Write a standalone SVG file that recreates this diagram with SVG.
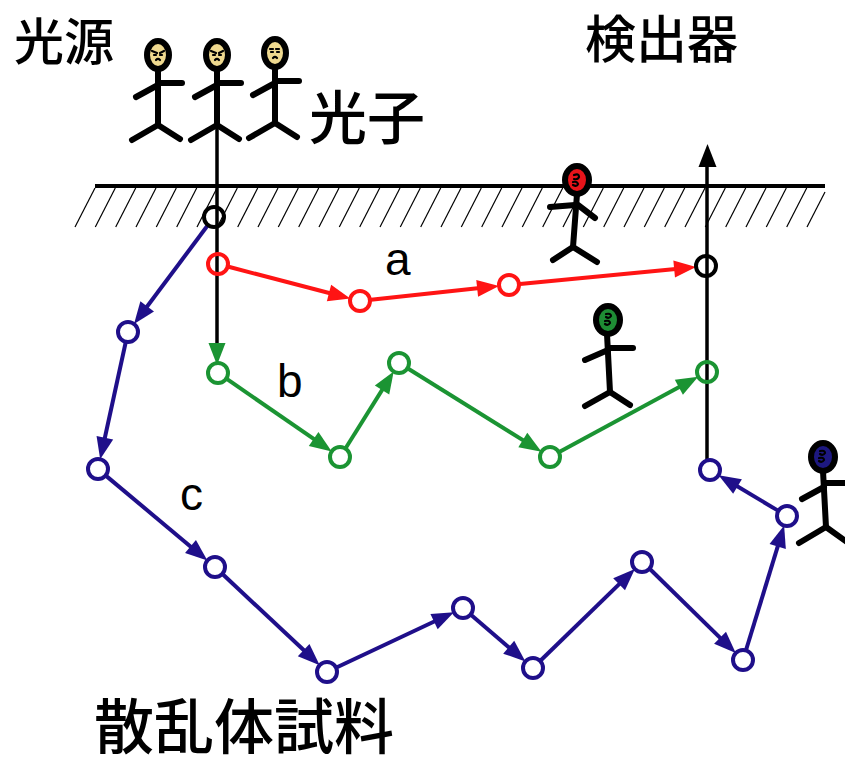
<svg xmlns="http://www.w3.org/2000/svg" width="845" height="767" viewBox="0 0 845 767">
  <style>
    .jp { font-family: "Noto Sans CJK JP", "Noto Sans CJK SC", sans-serif; font-weight: 500; fill: #000; }
    .lbl { font-family: "Liberation Sans", Arial, sans-serif; font-size: 46px; fill: #000; }
    .node { fill: none; stroke-width: 4; }
    .limb { stroke: #000; stroke-width: 6; stroke-linecap: round; fill: none; }
    .head { stroke: #000; stroke-width: 6; }
    .face { stroke: #000; stroke-width: 2.2; fill: none; stroke-linecap: round; }
    .hatch line { stroke: #000; stroke-width: 1.2; }
    .red { stroke: #ff1414; }
    .green { stroke: #1b9433; }
    .blue { stroke: #1f0f8a; }
    .path line { stroke-width: 4; }
  </style>
  <defs>
    <marker id="arR" markerUnits="userSpaceOnUse" viewBox="0 0 22 17" markerWidth="22" markerHeight="17" refX="12" refY="8.5" orient="auto" overflow="visible">
      <path d="M0,0 L22,8.5 L0,17 z" fill="#ff1414"/>
    </marker>
    <marker id="arG" markerUnits="userSpaceOnUse" viewBox="0 0 22 17" markerWidth="22" markerHeight="17" refX="12" refY="8.5" orient="auto" overflow="visible">
      <path d="M0,0 L22,8.5 L0,17 z" fill="#1b9433"/>
    </marker>
    <marker id="arB" markerUnits="userSpaceOnUse" viewBox="0 0 22 17" markerWidth="22" markerHeight="17" refX="12" refY="8.5" orient="auto" overflow="visible">
      <path d="M0,0 L22,8.5 L0,17 z" fill="#1f0f8a"/>
    </marker>
    <g id="stick">
      <line class="limb" x1="0" y1="16" x2="0" y2="70"/>
      <line class="limb" x1="0" y1="28" x2="24" y2="28"/>
      <line class="limb" x1="0" y1="30" x2="-22" y2="42"/>
      <line class="limb" x1="0" y1="70" x2="-26" y2="85"/>
      <line class="limb" x1="0" y1="70" x2="22" y2="84"/>
    </g>
  </defs>

  <!-- sample surface with hatching -->
  <g id="surface">
    <line x1="95" y1="186" x2="825" y2="186" stroke="#000" stroke-width="4"/>
    <g class="hatch">
      <line x1="75" y1="227" x2="95" y2="188"/>
      <line x1="95.3" y1="227" x2="115.3" y2="188"/>
      <line x1="115.7" y1="227" x2="135.7" y2="188"/>
      <line x1="136" y1="227" x2="156" y2="188"/>
      <line x1="156.3" y1="227" x2="176.3" y2="188"/>
      <line x1="176.7" y1="227" x2="196.7" y2="188"/>
      <line x1="197" y1="227" x2="217" y2="188"/>
      <line x1="217.3" y1="227" x2="237.3" y2="188"/>
      <line x1="237.7" y1="227" x2="257.7" y2="188"/>
      <line x1="258" y1="227" x2="278" y2="188"/>
      <line x1="278.3" y1="227" x2="298.3" y2="188"/>
      <line x1="298.7" y1="227" x2="318.7" y2="188"/>
      <line x1="319" y1="227" x2="339" y2="188"/>
      <line x1="339.3" y1="227" x2="359.3" y2="188"/>
      <line x1="359.7" y1="227" x2="379.7" y2="188"/>
      <line x1="380" y1="227" x2="400" y2="188"/>
      <line x1="400.3" y1="227" x2="420.3" y2="188"/>
      <line x1="420.7" y1="227" x2="440.7" y2="188"/>
      <line x1="441" y1="227" x2="461" y2="188"/>
      <line x1="461.3" y1="227" x2="481.3" y2="188"/>
      <line x1="481.7" y1="227" x2="501.7" y2="188"/>
      <line x1="502" y1="227" x2="522" y2="188"/>
      <line x1="522.3" y1="227" x2="542.3" y2="188"/>
      <line x1="542.7" y1="227" x2="562.7" y2="188"/>
      <line x1="563" y1="227" x2="583" y2="188"/>
      <line x1="583.3" y1="227" x2="603.3" y2="188"/>
      <line x1="603.7" y1="227" x2="623.7" y2="188"/>
      <line x1="624" y1="227" x2="644" y2="188"/>
      <line x1="644.3" y1="227" x2="664.3" y2="188"/>
      <line x1="664.7" y1="227" x2="684.7" y2="188"/>
      <line x1="685" y1="227" x2="705" y2="188"/>
      <line x1="705.3" y1="227" x2="725.3" y2="188"/>
      <line x1="725.7" y1="227" x2="745.7" y2="188"/>
      <line x1="746" y1="227" x2="766" y2="188"/>
      <line x1="766.3" y1="227" x2="786.3" y2="188"/>
      <line x1="786.7" y1="227" x2="806.7" y2="188"/>
      <line x1="807" y1="227" x2="825" y2="192"/>
    </g>
  </g>

  <!-- connectors -->
  <g id="connectors">
    <!-- incident beam -->
    <line x1="217" y1="125" x2="217" y2="350" stroke="#000" stroke-width="3.5"/>
    <path d="M208.5,343 L225.5,343 L217,365 z" fill="#1b9433"/>
    <!-- outgoing beam to detector -->
    <line x1="707" y1="460" x2="707" y2="162" stroke="#000" stroke-width="3.5"/>
    <path d="M698.5,167 L716.5,167 L707.5,144 z" fill="#000"/>

    <g class="path red">
      <line x1="228.6" y1="266.8" x2="340.6" y2="296" marker-end="url(#arR)"/>
      <line x1="371" y1="299.8" x2="489.1" y2="287.1" marker-end="url(#arR)"/>
      <line x1="520" y1="284" x2="686.1" y2="267.9" marker-end="url(#arR)"/>
    </g>
    <g class="path green">
      <line x1="227.1" y1="379.2" x2="323.5" y2="445.7" marker-end="url(#arG)"/>
      <line x1="345.9" y1="447.7" x2="388.4" y2="379.9" marker-end="url(#arG)"/>
      <line x1="408.3" y1="368.8" x2="533" y2="446.4" marker-end="url(#arG)"/>
      <line x1="559.7" y1="451.8" x2="689.4" y2="381.5" marker-end="url(#arG)"/>
    </g>
    <g class="path blue">
      <line x1="207.4" y1="225.8" x2="140" y2="316" marker-end="url(#arB)"/>
      <line x1="125.6" y1="342.7" x2="102.3" y2="449.5" marker-end="url(#arB)"/>
      <line x1="106.4" y1="476.1" x2="199.7" y2="554.2" marker-end="url(#arB)"/>
      <line x1="223" y1="574.5" x2="312.4" y2="658.3" marker-end="url(#arB)"/>
      <line x1="337" y1="667.3" x2="444.9" y2="616.5" marker-end="url(#arB)"/>
      <line x1="470.6" y1="614.5" x2="517.8" y2="655" marker-end="url(#arB)"/>
      <line x1="540.9" y1="660.3" x2="627.7" y2="575.9" marker-end="url(#arB)"/>
      <line x1="649.9" y1="569" x2="728.6" y2="646.1" marker-end="url(#arB)"/>
      <line x1="746.2" y1="649.5" x2="781.2" y2="535.1" marker-end="url(#arB)"/>
      <line x1="777.6" y1="510.4" x2="727.2" y2="480.3" marker-end="url(#arB)"/>
    </g>
  </g>

  <!-- scattering points -->
  <g id="nodes">
    <circle id="entry" class="node" cx="214" cy="217" r="10" stroke="#000"/>
    <circle id="exit" class="node" cx="706" cy="266" r="10" stroke="#000"/>
    <g id="nodes-a" class="red">
      <circle class="node" cx="218" cy="264" r="10"/>
      <circle class="node" cx="360" cy="301" r="10"/>
      <circle class="node" cx="509" cy="285" r="10"/>
    </g>
    <g id="nodes-b" class="green">
      <circle class="node" cx="218" cy="373" r="10"/>
      <circle class="node" cx="340" cy="457" r="10"/>
      <circle class="node" cx="399" cy="363" r="10"/>
      <circle class="node" cx="550" cy="457" r="10"/>
      <circle class="node" cx="707" cy="372" r="10"/>
    </g>
    <g id="nodes-c" class="blue">
      <circle class="node" cx="128" cy="332" r="10"/>
      <circle class="node" cx="98" cy="469" r="10"/>
      <circle class="node" cx="215" cy="567" r="10"/>
      <circle class="node" cx="327" cy="672" r="10"/>
      <circle class="node" cx="463" cy="608" r="10"/>
      <circle class="node" cx="533" cy="668" r="10"/>
      <circle class="node" cx="642" cy="562" r="10"/>
      <circle class="node" cx="743" cy="660" r="10"/>
      <circle class="node" cx="787" cy="516" r="10"/>
      <circle class="node" cx="710" cy="470" r="10"/>
    </g>
  </g>

  <!-- photon figures at the source -->
  <g id="photon1" transform="translate(158,55)">
    <use href="#stick"/>
    <ellipse class="head" cx="0" cy="0" rx="11" ry="14" fill="#efd98f"/>
    <path class="face" d="M-6,-4 L-1,-2 M2,-2 L6,-4 M-4,0 l2,0 M2,0 l2,0 M-2,5 q2,-2 4,0"/>
  </g>
  <g id="photon2" transform="translate(217,55)">
    <use href="#stick"/>
    <ellipse class="head" cx="0" cy="0" rx="11" ry="14" fill="#efd98f"/>
    <path class="face" d="M-6,-4 L-1,-2 M2,-2 L6,-4 M-4,0 l2,0 M2,0 l2,0 M-2,5 q2,-2 4,0"/>
  </g>
  <g id="photon3" transform="translate(275,53)">
    <use href="#stick"/>
    <ellipse class="head" cx="0" cy="0" rx="11" ry="14" fill="#efd98f"/>
    <path class="face" d="M-5,-4 l3,0 M1,-4 l3,0 M-4,-1 l2,0 M2,-1 l2,0 M-2,5 q2,-2 4,0"/>
  </g>

  <!-- photons inside the sample -->
  <g id="photon-a" transform="translate(577,180)">
    <line class="limb" x1="0" y1="14" x2="-4" y2="67"/>
    <line class="limb" x1="-27" y1="27" x2="-2" y2="25"/>
    <line class="limb" x1="1" y1="25" x2="18" y2="38"/>
    <line class="limb" x1="-4" y1="67" x2="-24" y2="80"/>
    <line class="limb" x1="-4" y1="67" x2="20" y2="82"/>
    <ellipse class="head" cx="0" cy="0" rx="12" ry="14" fill="#e8141a"/>
    <path class="face" d="M-3,-5 q5,-2 5,2 q-1,3 -5,2 M-4,2 q4,-1 5,2 q-1,3 -5,1"/>
  </g>
  <g id="photon-b" transform="translate(608,320)">
    <line class="limb" x1="-1" y1="14" x2="2" y2="72"/>
    <line class="limb" x1="0" y1="28" x2="25" y2="28"/>
    <line class="limb" x1="0" y1="30" x2="-23" y2="40"/>
    <line class="limb" x1="2" y1="72" x2="-23" y2="86"/>
    <line class="limb" x1="2" y1="72" x2="22" y2="85"/>
    <ellipse class="head" cx="0" cy="0" rx="12" ry="14" fill="#1e8c34"/>
    <path class="face" d="M-2,-6 q5,-1 5,2 q-2,3 -5,1 M-3,1 q5,-1 5,2 q-2,3 -5,1"/>
  </g>
  <g id="photon-c" transform="translate(823,457)">
    <line class="limb" x1="0" y1="14" x2="3" y2="70"/>
    <line class="limb" x1="1" y1="26" x2="24" y2="26"/>
    <line class="limb" x1="1" y1="30" x2="-21" y2="42"/>
    <line class="limb" x1="3" y1="70" x2="-24" y2="86"/>
    <line class="limb" x1="3" y1="70" x2="24" y2="85"/>
    <ellipse class="head" cx="0" cy="0" rx="12" ry="14" fill="#1d1880"/>
    <path class="face" d="M-3,-6 q5,-1 5,2 q-2,3 -5,1 M-4,1 q5,-1 5,2 q-2,3 -5,1"/>
  </g>

  <!-- labels -->
  <g id="labels">
    <text class="jp" x="14" y="60" font-size="50">光源</text>
    <text class="jp" x="585" y="58" font-size="51">検出器</text>
    <text class="jp" x="309" y="139" font-size="58">光子</text>
    <text class="jp" x="94" y="749" font-size="60">散乱体試料</text>
    <text class="lbl" x="385" y="275">a</text>
    <text class="lbl" x="277" y="397">b</text>
    <text class="lbl" x="180" y="510">c</text>
  </g>
</svg>
